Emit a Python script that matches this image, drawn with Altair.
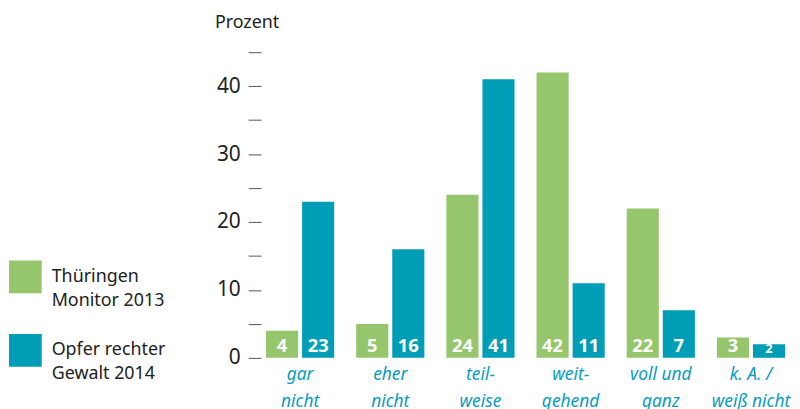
import altair as alt
import pandas as pd

categories = ["gar\nnicht", "eher\nnicht", "teil-\nweise", "weit-\ngehend", "voll und\nganz", "k. A. /\nweiß nicht"]
series = ["Thüringen\nMonitor 2013", "Opfer rechter\nGewalt 2014"]
thueringen = [4, 5, 24, 42, 22, 3]
opfer = [23, 16, 41, 11, 7, 2]
colors = ["#95c66b", "#009db7"]
y_ticks = [0, 5, 10, 15, 20, 25, 30, 35, 40, 45]

rows = []
for c, a, b in zip(categories, thueringen, opfer):
    rows.append({"cat": c, "series": series[0], "value": a})
    rows.append({"cat": c, "series": series[1], "value": b})
df = pd.DataFrame(rows)

FONT = "Noto Sans"

x_axis = alt.Axis(labelExpr="split(datum.label, '\\n')", labelAngle=0,
                  labelFontStyle="italic", labelColor="#0a9cbf", labelFontSize=17.5,
                  labelLineHeight=27, labelPadding=8, ticks=False, domain=False,
                  labelFont=FONT)
y_axis = alt.Axis(values=y_ticks, labelExpr="datum.value % 10 == 0 ? datum.label : ''",
                  labelOverlap=False,
                  grid=False, domain=False, tickSize=13, tickColor="#555",
                  labelFontSize=21, labelColor="#222", labelPadding=8, labelFont=FONT,
                  titleAngle=0, titleAlign="left", titleBaseline="top",
                  titleX=-47, titleY=-39, titleFontSize=18, titleFontWeight="normal",
                  titleColor="#222", titleFont=FONT)
y_scale = alt.Scale(domain=[0, 45], nice=False)
x_scale = alt.Scale(paddingInner=0.244, paddingOuter=0.055)
xoff = alt.XOffset("series:N", sort=series, scale=alt.Scale(paddingInner=0.11))

bars = alt.Chart(df).mark_bar().encode(
    x=alt.X("cat:N", sort=categories, title=None, scale=x_scale, axis=x_axis),
    xOffset=xoff,
    y=alt.Y("value:Q", title="Prozent", scale=y_scale, axis=y_axis),
    color=alt.Color("series:N", sort=series,
                    scale=alt.Scale(domain=series, range=colors),
                    legend=alt.Legend(orient="none", legendX=-254, legendY=210, title=None,
                                      symbolType="square", symbolSize=1089, symbolStrokeWidth=0,
                                      symbolOpacity=1,
                                      labelExpr="split(datum.label, '\\n')",
                                      labelFontSize=18, labelColor="#222",
                                      labelFont=FONT, labelOffset=10, rowPadding=24)),
)

labels = alt.Chart(df).mark_text(color="white", fontWeight="bold", baseline="bottom",
                                 font=FONT, dy=-2).encode(
    x=alt.X("cat:N", sort=categories, title=None, scale=x_scale, axis=x_axis),
    xOffset=xoff,
    y=alt.YDatum(0, title="Prozent", scale=y_scale, axis=y_axis),
    text=alt.Text("value:Q"),
    size=alt.condition("datum.value < 3", alt.value(13), alt.value(18.5)),
)

chart = (bars + labels).properties(
    width=533, height=308,
    autosize=alt.AutoSizeParams(type="none"),
    padding={"left": 255, "top": 43, "right": 2, "bottom": 50},
).configure(view=alt.ViewConfig(stroke=None), style={"guide-label": {"lineHeight": 24}})

chart.save("out.html", embed_options={"renderer": "svg", "actions": False})
